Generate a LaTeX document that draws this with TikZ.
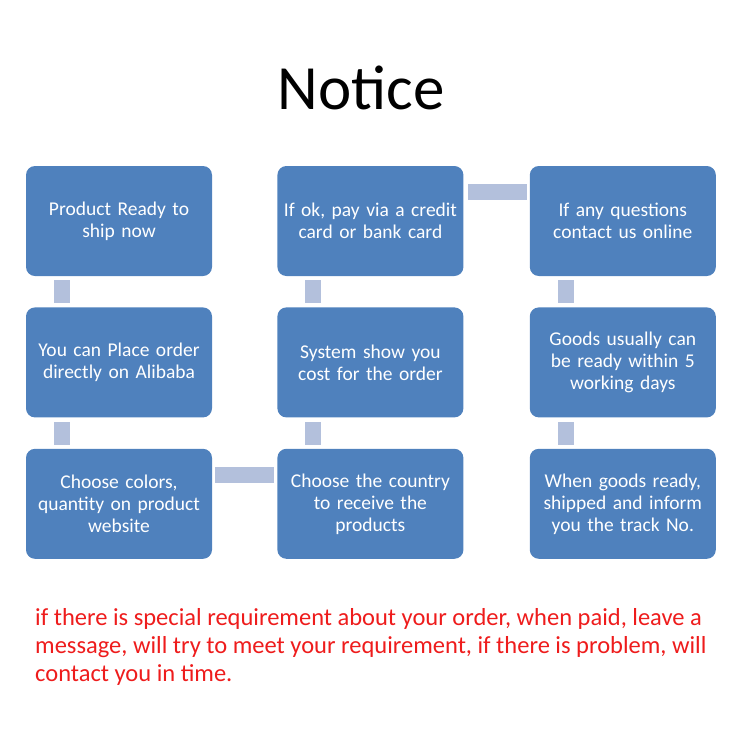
\documentclass[tikz,border=0pt]{standalone}
\usepackage{fontspec}
\setmainfont{Carlito}
\usetikzlibrary{positioning}
\definecolor{cblue}{HTML}{4F81BD}
\definecolor{clink}{HTML}{B3C0DC}
\definecolor{cred}{HTML}{EE1C1C}
\tikzset{
  every picture/.style={x=1pt, y=1pt},
  box/.style={fill=cblue, rounded corners=9pt, text=white, align=center, minimum width=186pt, minimum height=110pt, text width=176pt, font=\fontsize{19.5}{22}\selectfont, inner sep=0pt},
  link/.style={fill=clink},
  title/.style={font=\fontsize{63}{70}\selectfont},
  note/.style={font=\fontsize{24.5}{28}\selectfont, text=cred, align=left, anchor=north west, inner sep=0pt},
}

\begin{document}
\begin{tikzpicture}
  \useasboundingbox (0,0) rectangle (750,-750);
  \node[title] (head) at (361,-88) {Notice};

  % first column, top to bottom
  \node[box] (ready) at (119,-221) {Product Ready to\\ship now};
  \node[box, below=31pt of ready] (place) {You can Place order\\directly on Alibaba};
  \node[box, below=31pt of place] (colors) {Choose colors,\\quantity on product\\website};
  % second column, bottom to top
  \node[box, right=65pt of colors] (country) {Choose the country\\to receive the\\products};
  \node[box, right=65pt of place] (cost) {System show you\\cost for the order};
  \node[box, right=65pt of ready] (pay) {If ok, pay via a credit\\card or bank card};
  % third column, top to bottom
  \node[box, right=66pt of pay] (ask) {If any questions\\contact us online};
  \node[box, right=66pt of cost] (days) {Goods usually can\\be ready within 5\\working days};
  \node[box, right=66pt of country] (ship) {When goods ready,\\shipped and inform\\you the track No.};

  % links between the boxes (upper box first)
  \foreach \a/\b in {ready/place, place/colors, cost/country, pay/cost, ask/days, days/ship} {
    \fill[link] ([xshift=28pt, yshift=-4pt]\a.south west) rectangle ([xshift=44pt, yshift=4pt]\b.north west);
  }
  \fill[link] ([xshift=3pt, yshift=-18pt]colors.north east) rectangle ([xshift=-3pt, yshift=-34pt]country.north west);
  \fill[link] ([xshift=4pt, yshift=-18pt]pay.north east) rectangle ([xshift=-3pt, yshift=-34pt]ask.north west);

  \node[note] (remark) at (35,-608) {if there is special requirement about your order, when paid, leave a\\message, will try to meet your requirement, if there is problem, will\\contact you in time.};
\end{tikzpicture}
\end{document}
